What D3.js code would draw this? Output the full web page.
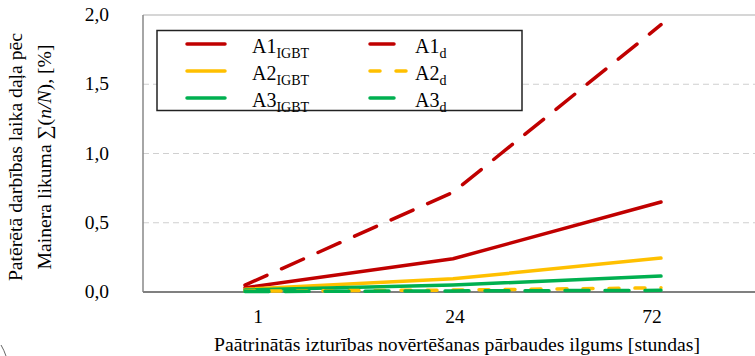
<!DOCTYPE html>
<html>
<head>
<meta charset="utf-8">
<script src="https://cdn.jsdelivr.net/npm/d3@7"></script>
<style>
  html, body { margin: 0; padding: 0; background: #fff; }
  svg { display: block; }
</style>
</head>
<body>
<svg id="chart" width="755" height="356"></svg>
<script>
// ---- data ----
const categories = ["1", "24", "72"];
const yTicks = [0, 0.5, 1.0, 1.5, 2.0];
const A1_IGBT = [0.03, 0.24, 0.65];
const A2_IGBT = [0.02, 0.095, 0.245];
const A3_IGBT = [0.015, 0.05, 0.115];
const A1_d = [0.05, 0.72, 1.93];
const A2_d = [0.006, 0.014, 0.03];
const A3_d = [0.003, 0.008, 0.012];

const seriesNames = ["A1", "A2", "A3", "A1", "A2", "A3"];
const seriesSubs = ["IGBT", "IGBT", "IGBT", "d", "d", "d"];
const seriesValues = [A1_IGBT, A2_IGBT, A3_IGBT, A1_d, A2_d, A3_d];
const seriesColors = ["#C00000", "#FFC000", "#00B050", "#C00000", "#FFC000", "#00B050"];
const seriesDash = [null, null, null, "24,16", "10,16", "24,16"];

(function () {
const FONT = "Liberation Serif";
const svg = d3.select("#chart");
svg.append("rect").attr("width", 755).attr("height", 356).attr("fill", "#fff");

const pL = 143, pT = 15, pB = 292, pR = 756;
const y = d3.scaleLinear().domain([0, 2]).range([pB, pT]);
const x = d3.scalePoint().domain(categories).range([245, 661]);
const xLab = d3.scalePoint().domain(categories).range([258, 652]);

// gridlines
svg.append("g").selectAll("line").data(yTicks.filter(d => d > 0 && d < 2)).join("line")
  .attr("x1", pL).attr("x2", pR)
  .attr("y1", d => y(d)).attr("y2", d => y(d))
  .attr("stroke", "#d0d0d0").attr("stroke-width", 1.2).attr("stroke-dasharray", "6,4");

// frame
svg.append("line").attr("x1", pL).attr("x2", pR).attr("y1", y(2)).attr("y2", y(2))
  .attr("stroke", "#c8c8c8").attr("stroke-width", 1.5);
svg.append("line").attr("x1", pL).attr("x2", pL).attr("y1", y(2)).attr("y2", y(0))
  .attr("stroke", "#888").attr("stroke-width", 1.5);
svg.append("line").attr("x1", pL).attr("x2", pR).attr("y1", y(0)).attr("y2", y(0))
  .attr("stroke", "#808080").attr("stroke-width", 2);

// y tick labels
const fmt = d => d.toFixed(1).replace(".", ",");
svg.append("g").selectAll("text").data(yTicks).join("text")
  .attr("x", 109).attr("y", d => y(d) + 6)
  .attr("text-anchor", "end").attr("font-family", FONT).attr("font-size", 19.5).attr("fill", "#000")
  .text(fmt);

// x tick labels
svg.append("g").selectAll("text").data(categories).join("text")
  .attr("x", d => xLab(d)).attr("y", 323)
  .attr("text-anchor", "middle").attr("font-family", FONT).attr("font-size", 19.5).attr("fill", "#000")
  .text(d => d);

// x title
svg.append("text").attr("x", 457).attr("y", 351).attr("text-anchor", "middle")
  .attr("font-family", FONT).attr("font-size", 19.7).attr("fill", "#000")
  .text("Paātrinātās izturības novērtēšanas pārbaudes ilgums [stundas]");

// y title
const yt = svg.append("g").attr("transform", "translate(0,157) rotate(-90)");
yt.append("text").attr("x", 0).attr("y", 22).attr("text-anchor", "middle")
  .attr("font-family", FONT).attr("font-size", 19.7).attr("fill", "#000")
  .text("Patērētā darbības laika daļa pēc");
const yt2 = yt.append("text").attr("x", 0).attr("y", 51).attr("text-anchor", "middle")
  .attr("font-family", FONT).attr("font-size", 19.7).attr("fill", "#000");
yt2.append("tspan").text("Mainera likuma ∑(");
yt2.append("tspan").attr("font-style", "italic").text("n/N");
yt2.append("tspan").text("), [%]");

// lines
const line = d3.line().x((d, i) => x(categories[i])).y(d => y(d));
svg.append("g").selectAll("path").data(seriesValues).join("path")
  .attr("d", d => line(d))
  .attr("fill", "none")
  .attr("stroke", (d, i) => seriesColors[i])
  .attr("stroke-width", 3.5)
  .attr("stroke-linecap", "round")
  .attr("stroke-linejoin", "round")
  .attr("stroke-dasharray", (d, i) => seriesDash[i]);

// legend
const lg = svg.append("g");
lg.append("rect").attr("x", 157).attr("y", 30.5).attr("width", 365).attr("height", 80)
  .attr("fill", "#fff").attr("stroke", "#222").attr("stroke-width", 1.5);
const legX = [[187, 225, 252], [370, 408, 415]];
const rowY = [44, 71, 98];
seriesNames.forEach((n, i) => {
  const col = Math.floor(i / 3), row = i % 3;
  const [x1, x2, tx] = legX[col];
  lg.append("line").attr("x1", x1).attr("x2", x2).attr("y1", rowY[row]).attr("y2", rowY[row])
    .attr("stroke", seriesColors[i]).attr("stroke-width", 3.5).attr("stroke-linecap", "round")
    .attr("stroke-dasharray", seriesDash[i]);
  const t = lg.append("text").attr("x", tx).attr("y", rowY[row] + 9)
    .attr("font-family", FONT).attr("font-size", 20).attr("fill", "#000");
  t.append("tspan").text(n);
  t.append("tspan").attr("font-size", 14).attr("dy", 5).text(seriesSubs[i]);
});

// stray corner mark
svg.append("path").attr("d", "M1,345 Q4,350 6,356").attr("fill", "none")
  .attr("stroke", "#666").attr("stroke-width", 1);
})();
</script>
</body>
</html>
